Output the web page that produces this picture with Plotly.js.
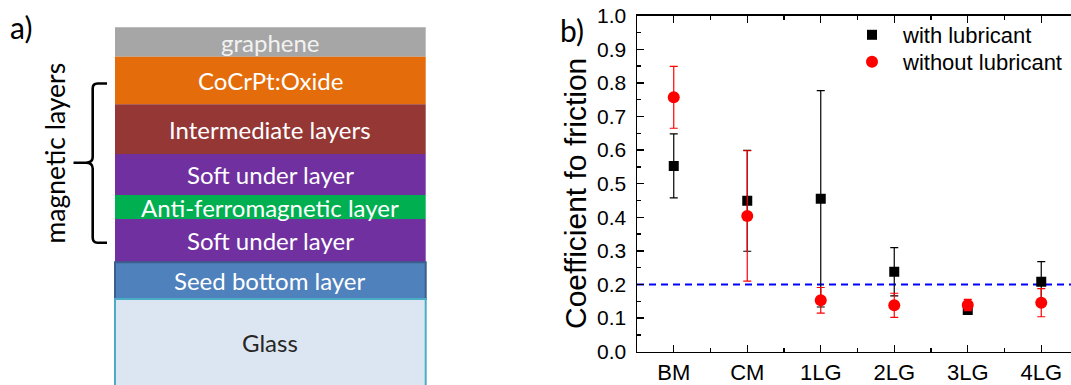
<!DOCTYPE html>
<html>
<head>
<meta charset="utf-8">
<script src="https://cdn.plot.ly/plotly-3.0.1.min.js"></script>
<style>html,body{margin:0;padding:0;background:#fff;}#chart{width:1071px;height:385px;}</style>
</head>
<body>
<div id="chart"></div>
<script>
// ---- panel a: layer stack ----
const layerNames = ['graphene', 'CoCrPt:Oxide', 'Intermediate layers', 'Soft under layer',
  'Anti-ferromagnetic layer', 'Soft under layer', 'Seed bottom layer', 'Glass'];
const layerThickness = [29.4, 47.6, 49.7, 41.0, 24.0, 43.3, 36.7, 90.0];
const layerColors = ['#A6A6A6', '#E46C0A', '#953735', '#7030A0', '#00B050', '#7030A0', '#4F81BD', '#DCE6F2'];
const layerTextColors = ['#F2F2F2', '#FFFFFF', '#FFFFFF', '#FFFFFF', '#FFFFFF', '#FFFFFF', '#FFFFFF', '#262626'];
const layerBorderColors = ['#A6A6A6', '#E46C0A', '#953735', '#7030A0', '#00B050', '#7030A0', '#3A5F8C', '#4BACC6'];
const layerBorderWidths = [0, 0, 0, 0, 0, 0, 2, 2];
const stackTop = 27.3;
const stackX = 270.35;
const stackWidth = 310.7;
const panelAHeight = 385;

// ---- panel b: friction data ----
const categories = ['BM', 'CM', '1LG', '2LG', '3LG', '4LG'];
const withLub = [0.553, 0.449, 0.455, 0.238, 0.124, 0.208];
const withLubErr = [0.095, 0.150, 0.322, 0.072, 0.012, 0.060];
const withoutLub = [0.757, 0.404, 0.153, 0.138, 0.139, 0.146];
const withoutLubErr = [0.092, 0.194, 0.038, 0.036, 0.017, 0.042];
const thresholdValue = 0.2;
const yTicks = [0.0, 0.1, 0.2, 0.3, 0.4, 0.5, 0.6, 0.7, 0.8, 0.9, 1.0];

const catPos = categories.map((c, i) => i + 1);

const bases = [];
let acc = stackTop;
layerThickness.forEach(t => { bases.push(acc); acc += t; });

const ARIAL = '"Liberation Sans", Arial, sans-serif';
const LATO = 'Lato, sans-serif';

const traces = [];

traces.push({
  type: 'bar',
  x: layerNames.map(() => stackX),
  y: layerThickness,
  base: bases,
  width: layerNames.map(() => stackWidth),
  marker: { color: layerColors, line: { color: layerBorderColors, width: layerBorderWidths } },
  xaxis: 'x2', yaxis: 'y2',
  hoverinfo: 'skip', showlegend: false
});

traces.push({
  type: 'scatter', mode: 'lines',
  x: [0.5, 6.5], y: [thresholdValue, thresholdValue],
  line: { color: '#0000FF', width: 2, dash: '7px,5px' },
  hoverinfo: 'skip', showlegend: false
});

traces.push({
  type: 'scatter', mode: 'markers', name: 'with lubricant', legend: 'legend',
  x: catPos, y: withLub,
  error_y: { type: 'data', array: withLubErr, visible: true, color: '#000000', thickness: 1.2, width: 4 },
  marker: { symbol: 'square', size: 10, color: '#000000' },
  hoverinfo: 'skip'
});

traces.push({
  type: 'scatter', mode: 'markers', name: 'without lubricant', legend: 'legend2',
  x: catPos, y: withoutLub,
  error_y: { type: 'data', array: withoutLubErr, visible: true, color: '#FF0000', thickness: 1.2, width: 4 },
  marker: { symbol: 'circle', size: 12, color: '#FF0000' },
  hoverinfo: 'skip'
});

const annotations = [];
layerNames.forEach((name, i) => {
  const top = bases[i];
  const bottom = Math.min(bases[i] + layerThickness[i], panelAHeight);
  annotations.push({
    xref: 'x2', yref: 'y2', x: stackX, y: (top + bottom) / 2,
    text: name, showarrow: false,
    font: { family: LATO, size: 24, color: layerTextColors[i] },
    xanchor: 'center', yanchor: 'middle'
  });
});
annotations.push({
  xref: 'x2', yref: 'y2', x: 54, y: 153.5, text: 'magnetic layers', textangle: -90,
  showarrow: false, font: { family: LATO, size: 26.5, color: '#000' },
  xanchor: 'center', yanchor: 'middle'
});
annotations.push({
  xref: 'paper', yref: 'paper', x: 21 / 1071, y: 1 - 27 / 385, text: 'a)', showarrow: false,
  font: { family: LATO, size: 30, color: '#000' }, xanchor: 'center', yanchor: 'middle'
});
annotations.push({
  xref: 'paper', yref: 'paper', x: 572 / 1071, y: 1 - 30 / 385, text: 'b)', showarrow: false,
  font: { family: LATO, size: 30, color: '#000' }, xanchor: 'center', yanchor: 'middle'
});
annotations.push({
  xref: 'paper', yref: 'paper', x: 576 / 1071, y: 1 - 194 / 385, text: 'Coefficient fo friction',
  textangle: -90, showarrow: false,
  font: { family: ARIAL, size: 30, color: '#000' },
  xanchor: 'center', yanchor: 'middle'
});

const bracePath = 'M 107 83.5 L 97.5 83.5 Q 92.7 83.5 92.7 88.5 L 92.7 157 Q 92.7 162.7 86 162.7 L 73.5 162.7 ' +
  'M 86 162.7 Q 92.7 162.7 92.7 168.5 L 92.7 237.5 Q 92.7 242.7 97.5 242.7 L 107 242.7';

const legendFont = { family: ARIAL, size: 22, color: '#000' };

const layout = {
  width: 1071, height: 385,
  margin: { l: 0, r: 0, t: 0, b: 0, pad: 0 },
  paper_bgcolor: '#fff', plot_bgcolor: 'rgba(0,0,0,0)',
  barmode: 'overlay',
  showlegend: true,
  legend: {
    x: 841 / 1071, y: 1 - 14 / 385, xanchor: 'left', yanchor: 'top',
    bgcolor: 'rgba(0,0,0,0)', borderwidth: 0, itemwidth: 52,
    font: legendFont, itemclick: false
  },
  legend2: {
    x: 841 / 1071, y: 1 - 41 / 385, xanchor: 'left', yanchor: 'top',
    bgcolor: 'rgba(0,0,0,0)', borderwidth: 0, itemwidth: 52,
    font: legendFont, itemclick: false
  },
  xaxis: {
    domain: [637 / 1071, 1], range: [0.5, 0.5 + 434 / 73.5],
    tickmode: 'array', tickvals: catPos, ticktext: categories,
    ticks: 'inside', ticklen: 7, tickwidth: 1.3, tickcolor: '#000',
    minor: { tickmode: 'array', tickvals: catPos.map(v => v + 0.5).concat([0.5]), ticks: 'inside', ticklen: 4, tickwidth: 1.3, tickcolor: '#000' },
    showline: true, linecolor: '#000', linewidth: 1.5, mirror: 'ticks',
    showgrid: false, zeroline: false, tickfont: { family: ARIAL, size: 22, color: '#000' }, ticklabelstandoff: 0,
    fixedrange: true
  },
  yaxis: {
    domain: [33.3 / 385, 369.3 / 385], range: [0, 1],
    tickmode: 'array', tickvals: yTicks, ticktext: yTicks.map(v => v.toFixed(1)),
    ticks: 'inside', ticklen: 7, tickwidth: 1.3, tickcolor: '#000',
    minor: { dtick: 0.05, ticks: 'inside', ticklen: 4, tickwidth: 1.3, tickcolor: '#000' },
    showline: true, linecolor: '#000', linewidth: 1.5,
    showgrid: false, zeroline: false, tickfont: { family: ARIAL, size: 21, color: '#000' }, ticklabelstandoff: 5,
    fixedrange: true
  },
  xaxis2: { domain: [0, 440 / 1071], range: [0, 440], visible: false, fixedrange: true, anchor: 'y2' },
  yaxis2: { domain: [0, 1], range: [385, 0], visible: false, fixedrange: true, anchor: 'x2' },
  shapes: [{
    type: 'path', xref: 'x2', yref: 'y2', path: bracePath,
    line: { color: '#000', width: 2.6 }
  }],
  annotations: annotations
};

Plotly.newPlot('chart', traces, layout, { displayModeBar: false, staticPlot: true });
</script>
</body>
</html>
